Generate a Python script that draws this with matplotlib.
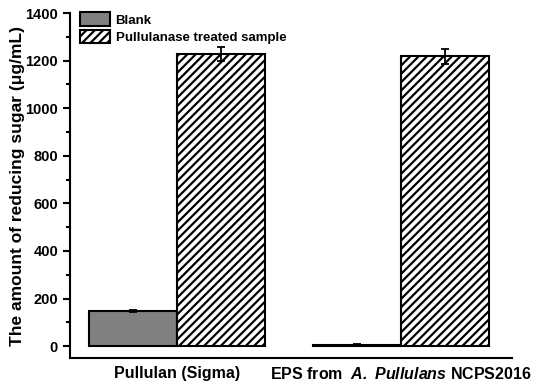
import matplotlib
matplotlib.use("Agg")
import matplotlib.pyplot as plt
import numpy as np

categories = ["Pullulan (Sigma)", "EPS from  $\\bfit{A.\\ Pullulans}$ NCPS2016"]
series = ["Blank", "Pullulanase treated sample"]
blank = [148, 5]
blank_err = [4, 2]
treated = [1228, 1218]
treated_err = [30, 30]

plt.rcParams['font.family'] = ['Liberation Sans', 'DejaVu Sans']
plt.rcParams['font.weight'] = 'bold'
plt.rcParams['hatch.linewidth'] = 1.6
plt.rcParams['mathtext.fontset'] = 'custom'
plt.rcParams['mathtext.bfit'] = 'Liberation Sans:bold:italic'
plt.rcParams['mathtext.bf'] = 'Liberation Sans:bold'
plt.rcParams['mathtext.it'] = 'Liberation Sans:italic'
plt.rcParams['mathtext.rm'] = 'Liberation Sans'

fig = plt.figure(figsize=(5.5, 3.87), dpi=100)
ax = fig.add_axes([0.127, 0.075, 0.804, 0.891])

x = np.arange(len(categories))
w = 0.393
ax.bar(x - w/2, blank, w, yerr=blank_err, color='#808080', edgecolor='black',
       linewidth=1.5, capsize=3, error_kw=dict(elinewidth=1.3, capthick=1.3), label=series[0])
ax.bar(x + w/2, treated, w, yerr=treated_err, color='white', edgecolor='black',
       hatch='////', linewidth=1.5, capsize=3, error_kw=dict(elinewidth=1.3, capthick=1.3),
       label=series[1])

ax.set_xlim(-0.478, 1.496)
ax.set_ylim(-50, 1400)
ax.set_yticks(np.arange(0, 1401, 200))
ax.set_yticks(np.arange(100, 1400, 200), minor=True)
ax.set_xticks(x)
ax.set_xticklabels(categories, fontsize=11.5, fontweight='bold')
ax.tick_params(axis='x', length=0, pad=6)
ax.tick_params(axis='y', which='major', length=5, width=1.5, direction='out', labelsize=10.5)
ax.tick_params(axis='y', which='minor', length=3, width=1.5, direction='out')
for s in ['top', 'right']:
    ax.spines[s].set_visible(False)
for s in ['left', 'bottom']:
    ax.spines[s].set_linewidth(1.5)
ax.set_ylabel("The amount of reducing sugar (μg/mL)", fontsize=12.5, fontweight='bold', labelpad=0)

ax.legend(loc='upper left', bbox_to_anchor=(0.005, 1.025), frameon=False, fontsize=9.5,
          handlelength=2.3, handleheight=1.2, labelspacing=0.25, borderaxespad=0.2, handletextpad=0.4)

fig.savefig("out.png", dpi=100)
